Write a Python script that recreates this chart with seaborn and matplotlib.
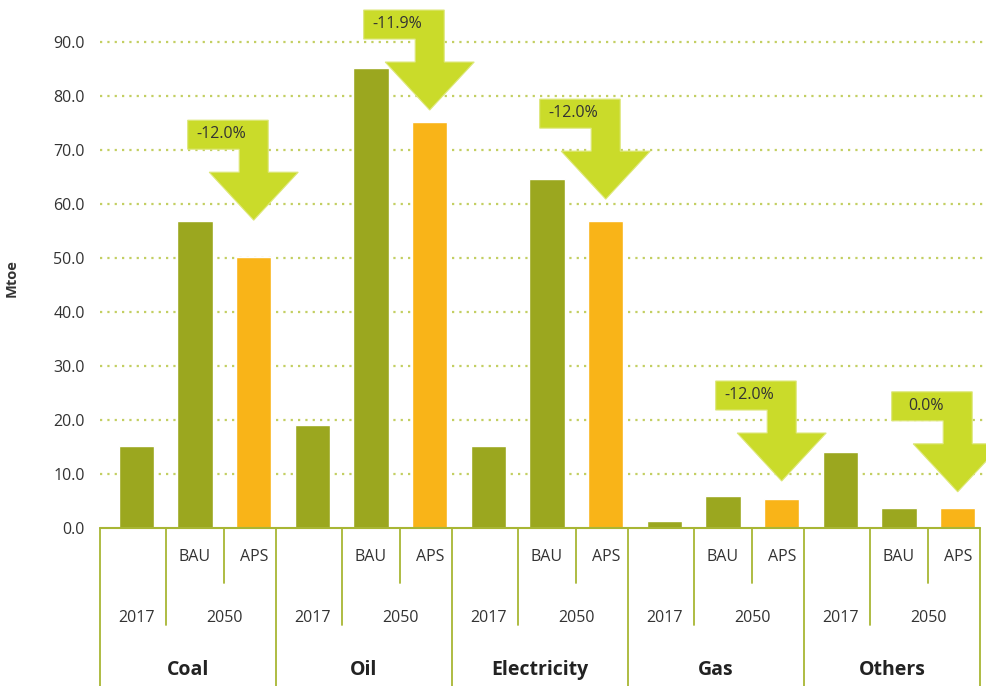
# =========================
# IMPORT PACKAGES
# =========================
import pandas as pd
import numpy as np
import matplotlib
matplotlib.use("Agg")
import matplotlib.pyplot as plt
import matplotlib.transforms as mtransforms
from matplotlib.patches import Polygon
import seaborn as sns

# =========================
# DATA
# =========================
fuels = ["Coal", "Oil", "Electricity", "Gas", "Others"]
scenarios = ["2017", "BAU", "APS"]
year_labels = ["2017", "2050"]

val_2017 = [15.2, 19.1, 15.2, 1.3, 14.1]
val_bau = [56.9, 85.2, 64.6, 5.9, 3.7]
val_aps = [50.1, 75.1, 56.9, 5.3, 3.7]

change_labels = ["-12.0%", "-11.9%", "-12.0%", "-12.0%", "0.0%"]
arrow_tips = [57.0, 77.4, 60.9, 8.7, 6.7]   # Mtoe level each arrow points at

y_ticks = [0, 10, 20, 30, 40, 50, 60, 70, 80, 90]

# long format
rows = []
for i, fuel in enumerate(fuels):
    for scen, vals in zip(scenarios, [val_2017, val_bau, val_aps]):
        rows.append({"key": fuel + "|" + scen, "Scenario": scen, "Mtoe": vals[i]})
df = pd.DataFrame(rows)

# =========================
# COLORS
# =========================
olive = "#9BA71F"
orange = "#F9B418"
lime = "#CADB2A"
grid_col = "#C3CF62"
line_col = "#A8B634"
text_col = "#333333"
palette = {"2017": olive, "BAU": olive, "APS": orange}

# =========================
# PLOT
# =========================
sns.set_style("white")
plt.rcParams["font.family"] = ["Open Sans", "DejaVu Sans"]

W, H = 986, 686
fig = plt.figure(figsize=(W / 100, H / 100), dpi=100)
ax = fig.add_axes([100 / W, (H - 528) / H, 880 / W, 528 / H])

sns.barplot(
    data=df, x="key", y="Mtoe", hue="Scenario", order=df["key"].tolist(),
    palette=palette, dodge=False, width=0.6, saturation=1, legend=False,
    ax=ax, zorder=3,
)

ax.set_xlim(-0.62, 14.38)
ax.set_ylim(0, 528 / 5.4)
for s in ax.spines.values():
    s.set_visible(False)

# dotted gridlines + baseline
for v in y_ticks[1:]:
    ax.axhline(v, xmax=1.007, color=grid_col, lw=1.6, ls=(0, (1, 2.3)),
               zorder=1, clip_on=False)
ax.axhline(0, color=line_col, lw=1.5, zorder=4, clip_on=False)

ax.set_yticks(y_ticks)
ax.set_yticklabels([f"{v:.1f}" for v in y_ticks])
ax.tick_params(axis="y", length=0, pad=11, labelsize=11.5, labelcolor=text_col)
ax.set_xticks([])
ax.set_xlabel("")
ax.set_ylabel("Mtoe", fontsize=10.5, fontweight="bold", color=text_col)
ax.yaxis.set_label_coords(-0.093, 0.473)

# =========================
# CATEGORY AXIS BELOW
# =========================
trans = mtransforms.blended_transform_factory(ax.transData, ax.transAxes)
x0 = ax.get_xlim()[0]
for i, fuel in enumerate(fuels):
    b = 3 * i
    ax.plot([b + x0, b + x0], [0, -0.3], transform=trans, color=line_col,
            lw=1.3, clip_on=False)
    ax.plot([b + 0.5, b + 0.5], [0, -0.184], transform=trans, color=line_col,
            lw=1.3, clip_on=False)
    ax.plot([b + 1.5, b + 1.5], [0, -0.104], transform=trans, color=line_col,
            lw=1.3, clip_on=False)
    ax.text(b + 1, -0.055, "BAU", transform=trans, ha="center", va="center",
            fontsize=11.5, color=text_col)
    ax.text(b + 2, -0.055, "APS", transform=trans, ha="center", va="center",
            fontsize=11.5, color=text_col)
    ax.text(b, -0.170, year_labels[0], transform=trans, ha="center",
            va="center", fontsize=11.5, color=text_col)
    ax.text(b + 1.5, -0.170, year_labels[1], transform=trans, ha="center",
            va="center", fontsize=11.5, color=text_col)
    ax.text(b + 0.88, -0.268, fuel, transform=trans, ha="center", va="center",
            fontsize=14, fontweight="bold", color="#222222")
ax.plot([14.38, 14.38], [0, -0.3], transform=trans, color=line_col, lw=1.3,
        clip_on=False)

# =========================
# CHANGE ARROWS
# =========================
# arrow outline in pixels, relative to the tip
shape = [(0, 0), (44.5, 48), (14.5, 48), (14.5, 100), (-66, 100), (-66, 71),
         (-14.5, 71), (-14.5, 48), (-44.5, 48)]
for i, lab in enumerate(change_labels):
    tip_x = 3 * i + 2
    t = mtransforms.Affine2D().scale(fig.dpi / 100) + \
        mtransforms.ScaledTranslation(tip_x, arrow_tips[i], ax.transData)
    ax.add_patch(Polygon(shape, closed=True, transform=t, facecolor=lime,
                         edgecolor="#DDE77A", lw=0.8, zorder=5, clip_on=False))
    ax.text(-32, 86, lab, transform=t, ha="center", va="center",
            fontsize=11.5, color=text_col, zorder=6)

plt.savefig("out.png", dpi=100)
